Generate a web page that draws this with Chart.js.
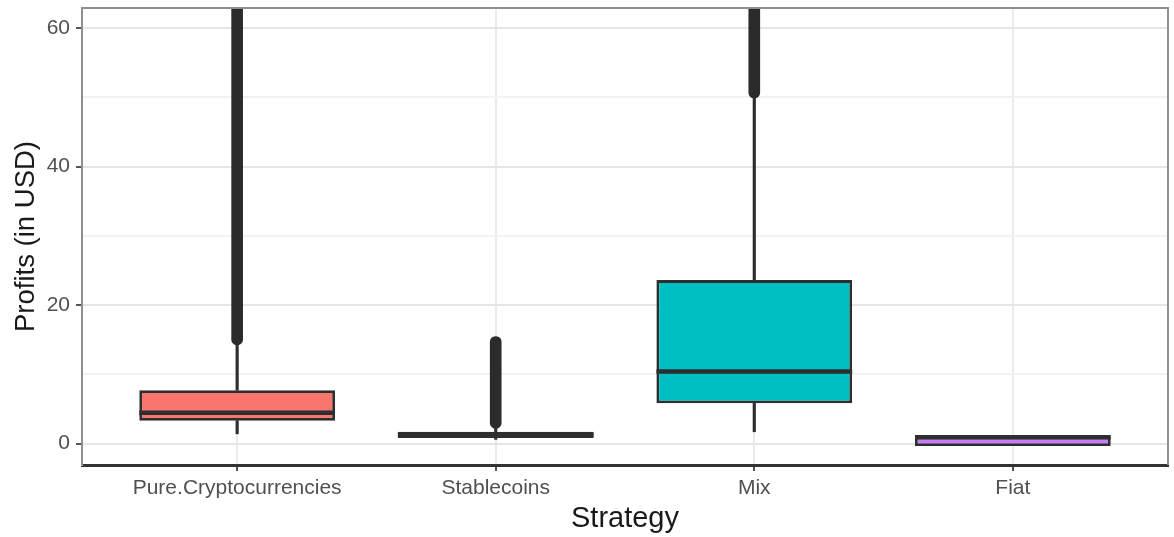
<!DOCTYPE html>
<html>
<head>
<meta charset="utf-8">
<script src="https://cdn.jsdelivr.net/npm/chart.js@4/dist/chart.umd.min.js"></script>
<style>
  html, body { margin: 0; padding: 0; background: #ffffff; }
  canvas { display: block; }
</style>
</head>
<body>
<canvas id="profits" width="1174" height="537"></canvas>
<script>
// Profit distribution per strategy (box-and-whisker summary, USD)
const categories  = ['Pure.Cryptocurrencies', 'Stablecoins', 'Mix', 'Fiat'];
const fills       = ['#F8766D', '#7CAE00', '#00BFC4', '#C77CFF'];
const whiskerLow  = [1.4, 0.6, 1.7, null];
const q1          = [3.3, 0.8, 5.8, -0.36];
const median      = [4.45, 1.25, 10.4, 0.9];
const q3          = [7.7, 1.7, 23.6, 0.98];
const whiskerHigh = [14.3, 2.2, 49.9, null];
// extent of the dense column of outlying points above each box
const outlierLow  = [14.25, 2.2, 49.9, null];
const outlierHigh = [63.5, 15.45, 63.5, null];
// y axis: grid every 10, labels every 20
const yGridValues  = [0, 10, 20, 30, 40, 50, 60];
const yLabelValues = [0, 20, 40, 60];

const INK = '#2e2e2e';
const BOX_WIDTH = 0.757;   // box width as a fraction of the category spacing

function range(lo, hi) {
  return categories
    .map((_, i) => ({ x: i + 1, y: [lo[i], hi[i]] }))
    .filter(d => d.y[0] !== null && d.y[1] !== null);
}

// one horizontal segment per box at the median, separated by gaps
function medianSegments() {
  const pts = [];
  categories.forEach((_, i) => {
    pts.push({ x: i + 1 - BOX_WIDTH / 2, y: median[i] });
    pts.push({ x: i + 1 + BOX_WIDTH / 2, y: median[i] });
    pts.push({ x: i + 1.5, y: null });
  });
  return pts;
}

// top / left / right edges of the panel frame
const panelFrame = {
  id: 'panelFrame',
  afterDatasetsDraw(chart) {
    const { ctx, chartArea: a } = chart;
    ctx.save();
    ctx.strokeStyle = '#8f8f8f';
    ctx.lineWidth = 2;
    ctx.beginPath();
    ctx.moveTo(a.left, a.bottom);
    ctx.lineTo(a.left, a.top);
    ctx.lineTo(a.right, a.top);
    ctx.lineTo(a.right, a.bottom);
    ctx.stroke();
    ctx.restore();
  }
};

Chart.defaults.font.family = '"Liberation Sans", Arial, Helvetica, sans-serif';

new Chart(document.getElementById('profits'), {
  type: 'bar',
  data: {
    datasets: [
      { // median line
        type: 'line',
        data: medianSegments(),
        borderColor: INK,
        borderWidth: 4.6,
        borderCapStyle: 'butt',
        pointRadius: 0,
        spanGaps: false,
        fill: false
      },
      { // box (Q1 to Q3)
        data: range(q1, q3),
        backgroundColor: fills,
        borderColor: INK,
        borderWidth: 2.8,
        borderSkipped: false,
        grouped: false,
        categoryPercentage: 1,
        barPercentage: BOX_WIDTH
      },
      { // lower whisker
        data: range(whiskerLow, q1),
        backgroundColor: INK,
        borderWidth: 0,
        grouped: false,
        barThickness: 2.5
      },
      { // upper whisker
        data: range(q3, whiskerHigh),
        backgroundColor: INK,
        borderWidth: 0,
        grouped: false,
        barThickness: 2.5
      },
      { // outlier column
        data: range(outlierLow, outlierHigh),
        backgroundColor: '#2b2b2b',
        borderWidth: 0,
        borderSkipped: false,
        borderRadius: 5.5,
        grouped: false,
        barThickness: 11
      }
    ]
  },
  options: {
    responsive: false,
    animation: false,
    events: [],
    layout: { padding: { top: 8, right: 6, left: 0, bottom: 0 } },
    plugins: {
      legend: { display: false },
      tooltip: { enabled: false }
    },
    scales: {
      x: {
        type: 'linear',
        offset: false,
        min: 0.4,
        max: 4.6,
        afterBuildTicks(axis) {
          axis.ticks = categories.map((_, i) => ({ value: i + 1 }));
        },
        afterFit(scale) {
          scale.height = 72;
          scale.paddingLeft = 0;
          scale.paddingRight = 0;
        },
        ticks: {
          autoSkip: false,
          maxRotation: 0,
          padding: 5,
          color: '#505050',
          font: { size: 21 },
          callback: v => categories[v - 1]
        },
        grid: {
          offset: false,
          color: '#ebebeb',
          lineWidth: 2,
          tickColor: '#555555',
          tickLength: 6,
          tickWidth: 2
        },
        border: { color: '#333333', width: 3 },
        title: {
          display: true,
          text: 'Strategy',
          color: '#1a1a1a',
          font: { size: 29 },
          padding: { top: 0, bottom: 1 }
        }
      },
      y: {
        type: 'linear',
        min: -3.1,
        max: 62.9,
        afterBuildTicks(axis) {
          axis.ticks = yGridValues.map(v => ({ value: v }));
        },
        afterFit(scale) {
          scale.width = 82;
          scale.paddingTop = 0;
          scale.paddingBottom = 0;
        },
        ticks: {
          padding: 6,
          color: '#505050',
          font: { size: 21 },
          callback: v => (yLabelValues.includes(v) ? String(v) : '')
        },
        grid: {
          color: ctx => (ctx.tick && yLabelValues.includes(ctx.tick.value) ? '#e6e6e6' : '#f2f2f2'),
          lineWidth: 2,
          tickColor: ctx => (ctx.tick && yLabelValues.includes(ctx.tick.value) ? '#555555' : 'rgba(0,0,0,0)'),
          tickLength: 6,
          tickWidth: 2
        },
        border: { color: '#a8a8a8', width: 2 },
        title: {
          display: true,
          text: 'Profits (in USD)',
          color: '#1a1a1a',
          font: { size: 27.5 },
          padding: { top: 10, bottom: 0 }
        }
      }
    }
  },
  plugins: [panelFrame]
});
</script>
</body>
</html>
